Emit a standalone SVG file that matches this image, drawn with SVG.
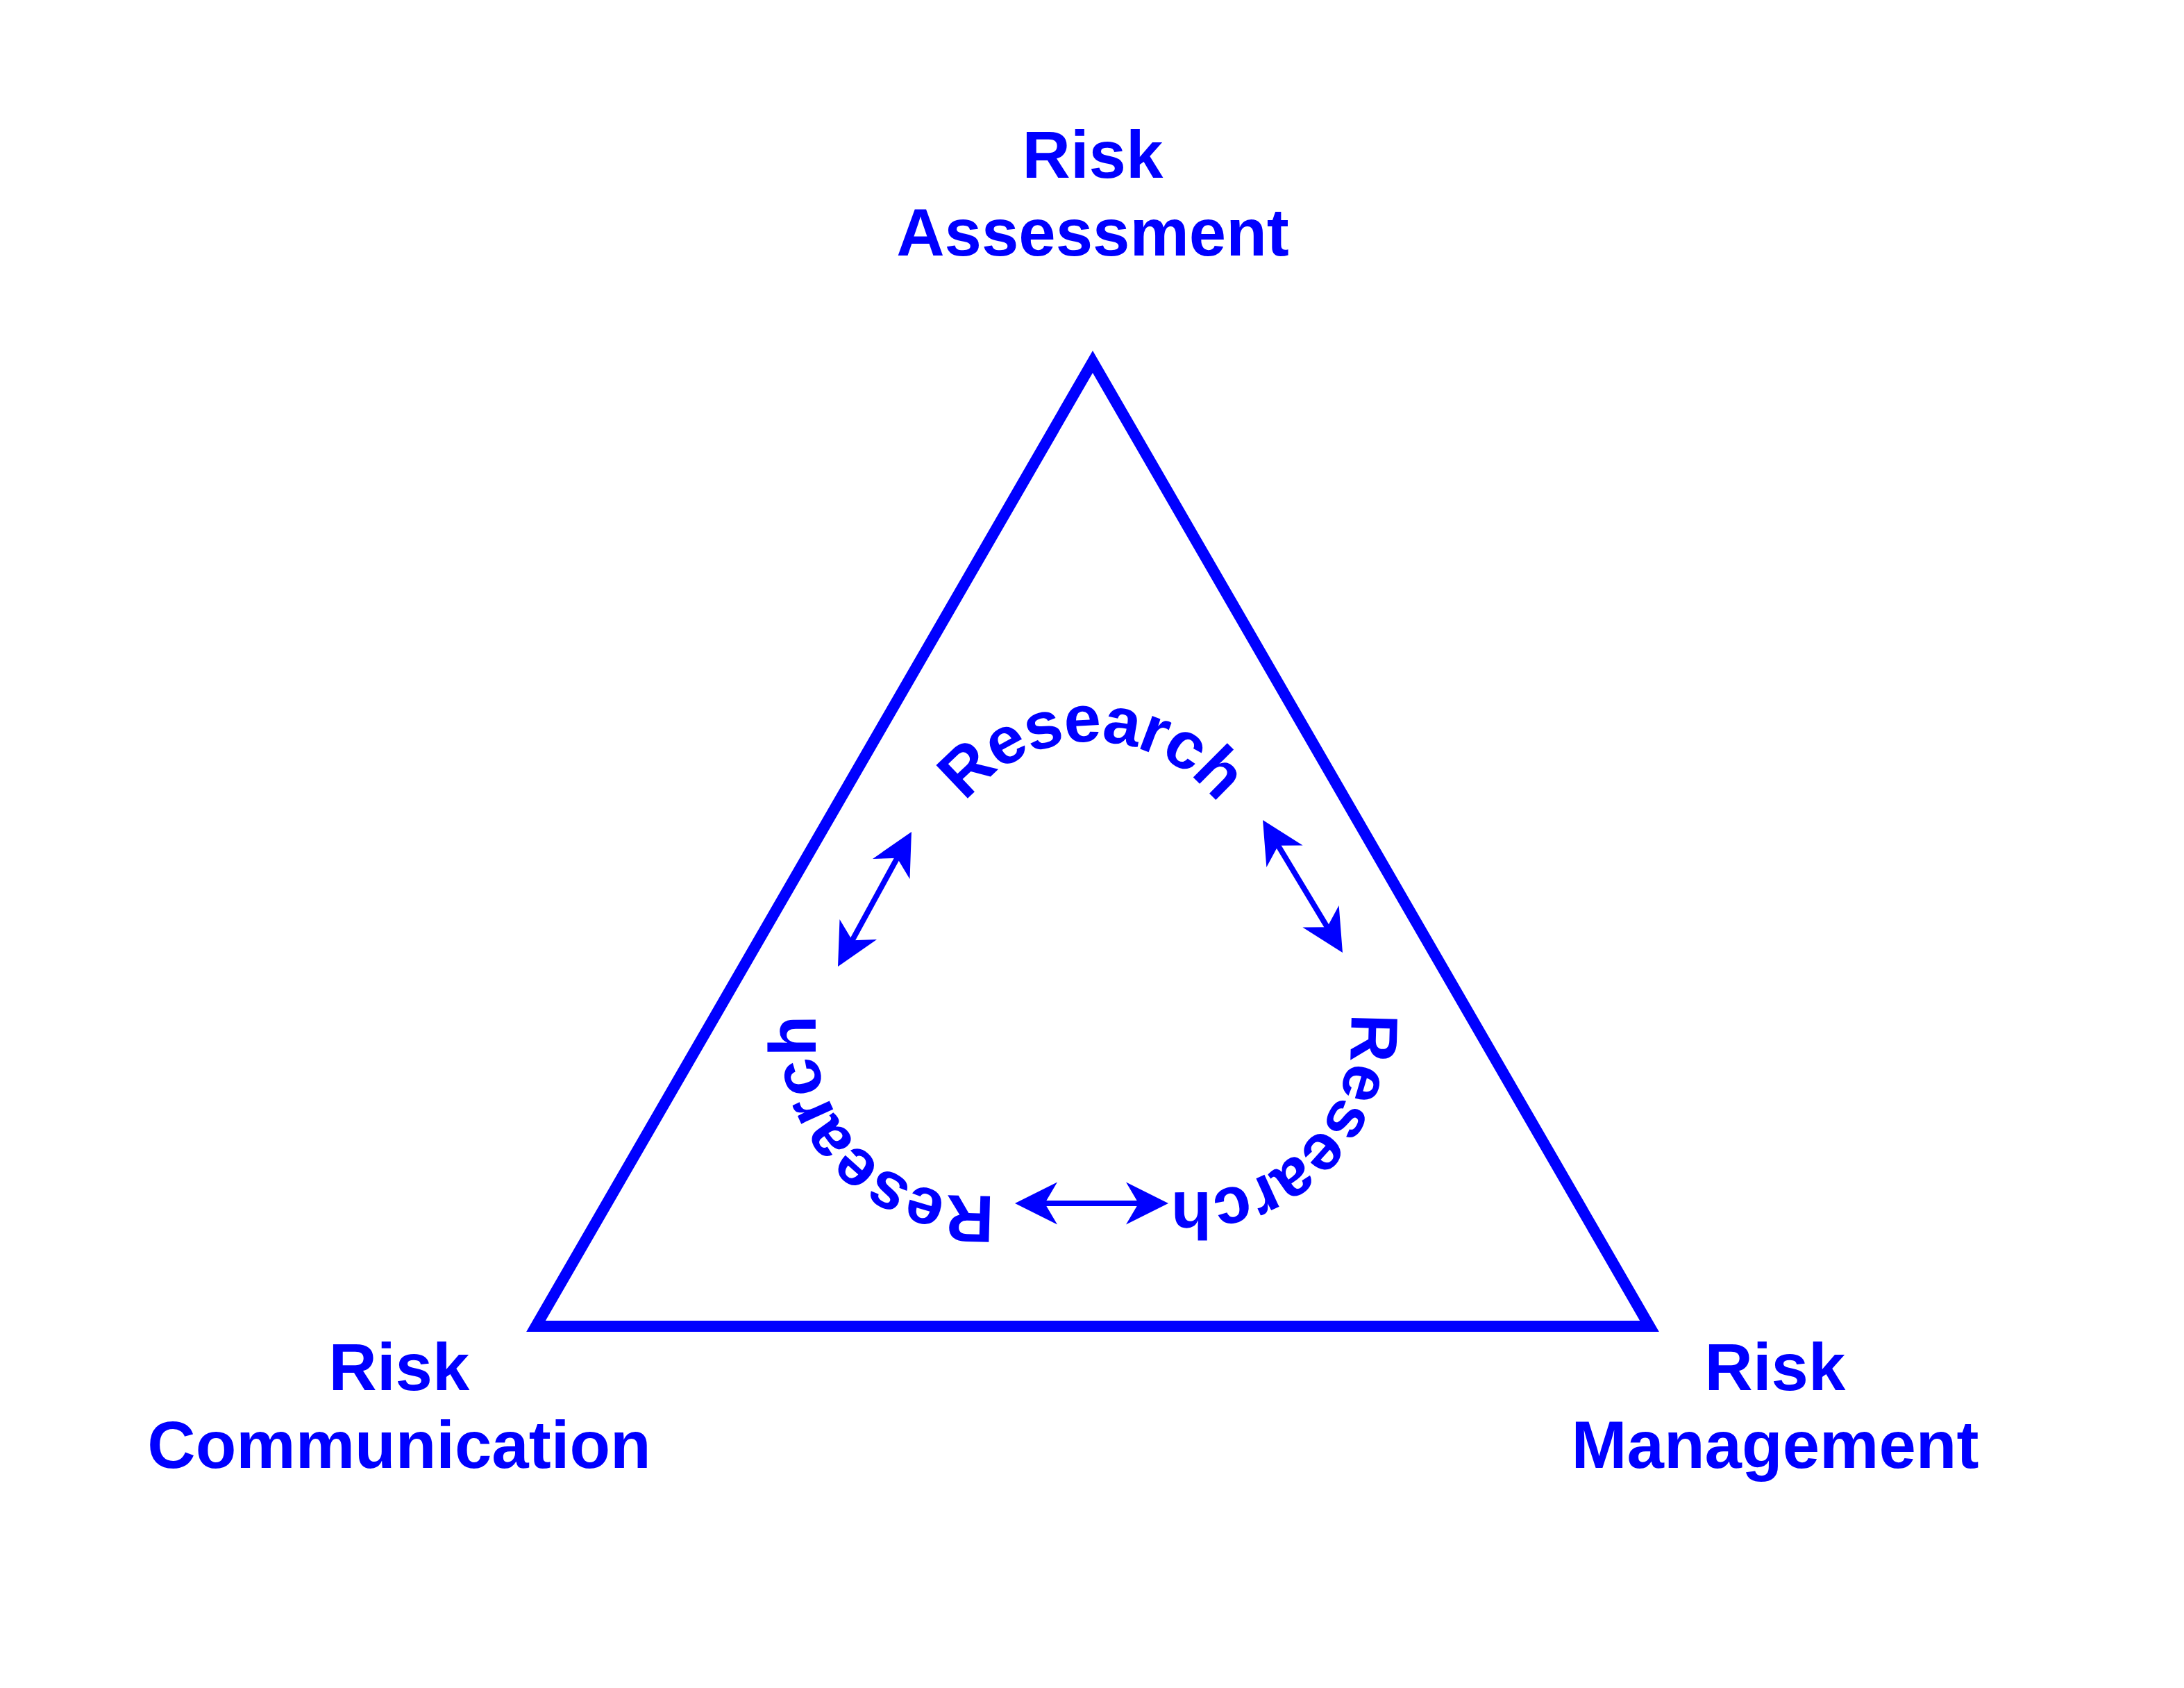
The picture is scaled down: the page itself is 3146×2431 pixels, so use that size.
<svg xmlns="http://www.w3.org/2000/svg" width="3146" height="2431" viewBox="0 0 3146 2431">
<style>
.lbl{font-family:"Liberation Sans",Arial,sans-serif;font-weight:bold;font-size:96px;fill:#0000FF;text-anchor:middle}
.res{font-family:"Liberation Sans",Arial,sans-serif;font-weight:bold;font-size:96px;letter-spacing:-2px;fill:#0000FF}
.tri{fill:none;stroke:#0000FF;stroke-width:16;stroke-linejoin:miter;stroke-miterlimit:10}
.arr{fill:none;stroke:#0000FF;stroke-width:8;marker-start:url(#ah);marker-end:url(#ah)}
</style>
<defs>
<marker id="ah" markerUnits="userSpaceOnUse" orient="auto-start-reverse" refX="0" refY="0" markerWidth="80" markerHeight="80" overflow="visible">
<path d="M30,0 L-31,-30.5 L-13,0 L-31,30.5 Z" fill="#0000FF"/>
</marker>
<path id="arcTop" d="M1345.5,1337.9 A230,230 0 1 1 1798.5,1337.9"/>
<path id="arcRight" d="M1847.9,1298.6 A230,230 0 1 1 1527.6,1618.9"/>
<path id="arcLeft" d="M1593.4,1623.9 A230,230 0 1 1 1273.1,1303.6"/>
</defs>
<rect width="3146" height="2431" fill="#FFFFFF"/>
<g id="triangle">
<polygon class="tri" points="1574,521 2376,1910 772,1910"/>
</g>
<g id="node-risk-assessment">
<text class="lbl" x="1574" y="256">Risk</text>
<text class="lbl" x="1574" y="368">Assessment</text>
</g>
<g id="node-risk-communication">
<text class="lbl" x="575" y="2002">Risk</text>
<text class="lbl" x="575" y="2114">Communication</text>
</g>
<g id="node-risk-management">
<text class="lbl" x="2557" y="2002">Risk</text>
<text class="lbl" x="2557" y="2114">Management</text>
</g>
<g id="research-top">
<text class="res"><textPath href="#arcTop" startOffset="50%" text-anchor="middle">Research</textPath></text>
</g>
<g id="research-right">
<text class="res"><textPath href="#arcRight" startOffset="50%" text-anchor="middle">Research</textPath></text>
</g>
<g id="research-left">
<text class="res"><textPath href="#arcLeft" startOffset="50%" text-anchor="middle">Research</textPath></text>
</g>
<g id="connectors">
<line class="arr" x1="1298.6" y1="1224.3" x2="1221.4" y2="1365.7"/>
<line class="arr" x1="1834.5" y1="1206.7" x2="1918.5" y2="1346.3"/>
<line class="arr" x1="1492" y1="1733" x2="1653" y2="1733"/>
</g>
</svg>
